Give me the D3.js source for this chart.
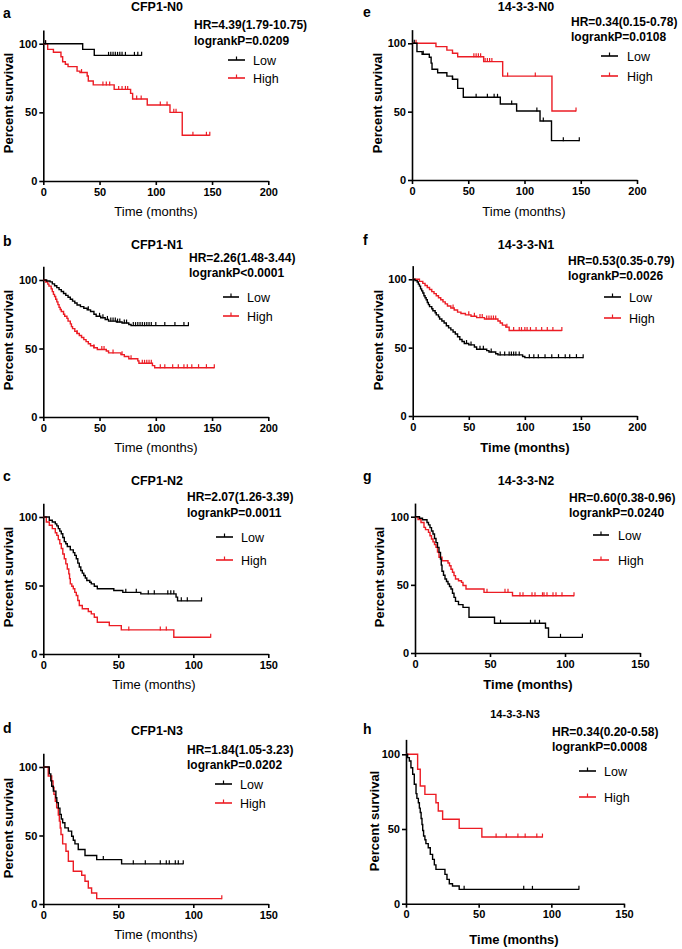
<!DOCTYPE html>
<html>
<head>
<meta charset="utf-8">
<script src="https://cdn.jsdelivr.net/npm/d3@7/dist/d3.min.js"></script>
<style>
  html, body { margin: 0; padding: 0; background: #fff; }
  svg text { font-family: "Liberation Sans", Arial, sans-serif; }
</style>
</head>
<body>
<svg id="chart" width="682" height="949"></svg>
<script>
// ---------------- DATA ----------------
// steps: [time, survival after drop]; censor: censored times; end: last follow-up time
const panelLetters = ["a","b","c","d","e","f","g","h"];
const panelTitles = ["CFP1-N0","CFP1-N1","CFP1-N2","CFP1-N3","14-3-3-N0","14-3-3-N1","14-3-3-N2","14-3-3-N3"];
const hrTexts = ["HR=4.39(1.79-10.75)","HR=2.26(1.48-3.44)","HR=2.07(1.26-3.39)","HR=1.84(1.05-3.23)",
                 "HR=0.34(0.15-0.78)","HR=0.53(0.35-0.79)","HR=0.60(0.38-0.96)","HR=0.34(0.20-0.58)"];
const pTexts = ["logrankP=0.0209","logrankP<0.0001","logrankP=0.0011","logrankP=0.0202",
                "logrankP=0.0108","logrankP=0.0026","logrankP=0.0240","logrankP=0.0008"];
const seriesNames = ["Low","High"];
const yTicks = [0, 50, 100];
const xTicks200 = [0, 50, 100, 150, 200];
const xTicks150 = [0, 50, 100, 150];

// Panel a: CFP1-N0
const aLow = [[35,95.9],[45.3,91.5]];
const aLowCensor = [2,58,60,62,64,66,68,70,73,81,84];
const aLowEnd = 87.4;
const aHigh = [[3.9,95.9],[9,93.8],[15.7,90.5],[17.2,86.9],[19.6,85],[22,83.3],[30,80],[32.6,79],[39,76.5],[40,72.8],[44.4,70],[63,66.7],[77.6,63.8],[79.4,59.7],[92.4,55.3],[112.6,50],[123.5,33.3]];
const aHighCensor = [2,34,53,56,59,67,70,73,75,83,87,104,110,116,118,133,145];
const aHighEnd = 148;

// Panel b: CFP1-N1
const bLow = [[3,99.3],[6,98.6],[8,97.2],[10,95.8],[12,94.4],[14,93],[16,91.6],[18,90.2],[20,88.8],[22,87.4],[24,86],[26,84.6],[28,83.2],[30,81.8],[33,80.6],[36,79.4],[39,78.2],[42,77],[45,75],[47,73.5],[51,72.5],[55,71.2],[58,70],[65,69.3],[70,68.6],[76,67.5],[78,66.7]];
const bLowCensor = [40,50,53,57,60,62,64,66,68,72,74,80,82,84,86,88,90,92,94,96,100,108,117,125];
const bLowEnd = 129;
const bHigh = [[2,98.5],[4,97],[5,95.5],[7,93.5],[8,91.5],[9,89.5],[10,88],[11,86],[12,84],[13,82],[14,80],[15,78.5],[16,77],[18,75],[19,73.5],[21,72],[22,70],[24,68],[25,66],[26,64.5],[28,62.5],[30,61],[32,59.5],[34,58],[36,56.5],[38,55],[40,53.5],[42,52],[45,50.5],[48,49.3],[56,48.2],[58,46.8],[69,45.5],[72,44.2],[76,42.5],[84,41],[85,39.2],[97,37.5],[99,36]];
const bHighCensor = [30,45,52,54,62,70,78,88,90,92,94,96,104,108,115,120,125,128,132,138,145];
const bHighEnd = 152;

// Panel c: CFP1-N2
const cLow = [[4,97.6],[6,96.3],[8,95],[9,93.5],[10,91.5],[11,89.7],[12,87.8],[13,85],[14,82],[15,80.5],[16,78.5],[18,76],[20,74],[21,72],[22,69.5],[23,66.3],[24,63.5],[25,61],[26,59],[27,57.3],[28,55.5],[29,53.7],[31,52.4],[32,51.2],[34,49.4],[36,47.6],[47,46.3],[53,45],[65,43.9],[88.5,41.5],[89.5,38.8]];
const cLowCensor = [55,62,70,74,83,85,87,92,96];
const cLowEnd = 105.5;
const cHigh = [[2,96.3],[4,94],[6,91.5],[8,88.5],[9,86.6],[10,83.5],[11,80.5],[12,77],[13,73],[14,69.5],[15,65.8],[16,62],[17,58.5],[17.5,55],[18,51.2],[19,49.4],[20,47.6],[21,45],[22,42.7],[23,39],[24,35.4],[26,33],[30,31],[32,29.3],[34,26.8],[36,23.2],[44,20.7],[52,17.6],[87,12.2]];
const cHighCensor = [57,78,82];
const cHighEnd = 111.6;

// Panel d: CFP1-N3
const dLow = [[4,95],[5,90],[5.6,86],[6.7,82.4],[8.4,77.6],[9,74],[10,70],[11.1,65.4],[12,62],[12.9,59.3],[14.4,55.6],[16.7,53.2],[18.9,49.5],[20,46.5],[21.1,43.9],[23.3,39.8],[27.8,35.4],[35.6,32.4],[52.2,29.3]];
const dLowCensor = [40,60,68,78,82,84,88,90];
const dLowEnd = 93.3;
const dHigh = [[3.3,93.4],[5.6,89.8],[6.5,85],[7.1,80],[8,75],[8.9,70.2],[10,65],[10.7,60.5],[11.3,55.5],[11.8,50.7],[12.9,43.9],[15.1,38.5],[16.7,31.2],[20,23.9],[25.6,21],[27.8,16.6],[30,11.7],[32.2,8],[35.6,3.9]];
const dHighCensor = [];
const dHighEnd = 119;

// Panel e: 14-3-3-N0
const eLow = [[4.4,93.9],[9,92],[15.4,89.8],[17,85.5],[17.8,81],[22.8,78.5],[31,76],[36,73.7],[40.6,67],[45.6,60.5],[78.5,55.6],[93,50.5],[113.8,43.2],[124,28.8]];
const eLowCensor = [2,10,36,57,67,73,76,88.6,111,116.7,134.5];
const eLowEnd = 148.7;
const eHigh = [[21.3,97.6],[31,95],[36,92.7],[40.6,90.2],[63.7,86.6],[80.6,76],[124.4,50.5]];
const eHighCensor = [3.6,55,57,59,61,65,67,69,71,85,109.6];
const eHighEnd = 145.8;

// Panel f: 14-3-3-N1
const fLow = [[2,99],[4,98],[5,96.5],[6,95],[7,93],[8,91.5],[9,90],[10,88],[11,86.5],[12,85],[13,83],[14,81.5],[15,80],[17,78.5],[18,77],[20,75.5],[21,74],[23,72.5],[24,71],[26,69.5],[28,68],[30,66],[32,64.5],[34,63],[36,61.5],[38,60],[40,58],[42,56],[44,54.5],[46,53],[50,52],[55,50.5],[57,48.8],[66,47.8],[68,46.8],[74,45.5],[76,44.7],[98,43.5],[100,42.7]];
const fLowCensor = [48,52,60,63,70,78,82,86,88,90,92,95,104,108,112,118,124,130,136,140,146];
const fLowEnd = 152;
const fHigh = [[6,98.5],[9,97],[11,95.5],[13,94],[15,92.5],[17,91],[19,89.5],[21,88],[23,86.5],[25,85],[27,83.5],[29,82],[31,80.5],[34,79],[37,77.5],[40,76],[43,75],[47,74],[52,73],[57,72],[64,71],[76,69.5],[78,68],[80,66.5],[83,65],[86,62.5]];
const fHighCensor = [36,50,55,60,62,66,68,70,72,74,84,90,95,97,100,102,105,110,115,120,125];
const fHighEnd = 133;

// Panel g: 14-3-3-N2
const gLow = [[3,98.9],[5,97.8],[8,95.8],[9,94],[10,92],[11,89.5],[12,87.3],[13,84],[14,81],[15,77.5],[16,73.8],[17,69],[17.5,64.5],[18,60],[19,57],[20,54.3],[21,52.5],[22,50.6],[23,48.8],[24,47],[25,43.8],[26,40.8],[27,37.9],[29,35.5],[32,33.5],[36,26.2],[53,21.8],[87,18.3],[89,11.5]];
const gLowCensor = [57,77,80,83,97];
const gLowEnd = 111.6;
const gHigh = [[2,98],[4,95.8],[6,92.2],[7,90.5],[9,88.5],[10,86],[11,83.6],[12,81.5],[13,79.5],[14,77.5],[15,74],[16,70.2],[18,67.7],[22,66],[23,64],[24,61.5],[25,59.2],[26,56.8],[27,54.3],[29,53],[31,51.8],[32,49.5],[34,47],[46,44.5],[65,42]];
const gHighCensor = [48,60,62,70,72,78,80,85,86,88,92,94,98];
const gHighEnd = 106;

// Panel h: 14-3-3-N3
const hLow = [[1.1,97.8],[2.3,95.5],[3.4,91],[4.6,86.6],[5.7,80],[6.9,73.7],[7.5,70.5],[8.5,67.6],[9.2,64],[9.8,61],[10.4,57],[11,53],[11.5,49],[12.1,45.3],[13,42.8],[13.7,40.2],[15.3,37.5],[16.7,33],[18.3,29.7],[19.5,26],[20.6,23],[26.8,19.6],[28.2,16.3],[29.8,13.4],[32,11.8],[36.6,9.6]];
const hLowCensor = [40,81,87];
const hLowEnd = 119;
const hHigh = [[8,90],[9.8,78.8],[13,73.2],[20.6,67.6],[22.2,62],[25.2,56.5],[36.6,50.4],[52.2,44.6]];
const hHighCensor = [62,69,77,82,90];
const hHighEnd = 93.9;

const xMaxes = [200, 200, 150, 150, 200, 200, 150, 150];

// ---------------- LAYOUT ----------------
const lowSeries = [[aLow,aLowCensor,aLowEnd],[bLow,bLowCensor,bLowEnd],[cLow,cLowCensor,cLowEnd],[dLow,dLowCensor,dLowEnd],
                   [eLow,eLowCensor,eLowEnd],[fLow,fLowCensor,fLowEnd],[gLow,gLowCensor,gLowEnd],[hLow,hLowCensor,hLowEnd]];
const highSeries = [[aHigh,aHighCensor,aHighEnd],[bHigh,bHighCensor,bHighEnd],[cHigh,cHighCensor,cHighEnd],[dHigh,dHighCensor,dHighEnd],
                    [eHigh,eHighCensor,eHighEnd],[fHigh,fHighCensor,fHighEnd],[gHigh,gHighCensor,gHighEnd],[hHigh,hHighCensor,hHighEnd]];

const layout = [
  // x0, x1, y0, y100, letter[x,y], title[x,y,size], hr[x,y1,y2], legend[x1,x2,yLow,yHigh,textX], xlab[x,y,bold], ylab[x,y]
  {x0:43.3,x1:268.3,y0:181,y100:43.7, L:[3,18], T:[157,11,12.5], H:[194,29,45], G:[228,245,60,78,253], X:[156,216,false], Y:[8,103]},
  {x0:43.3,x1:268.3,y0:417,y100:280,  L:[3,246], T:[157,249,12.5], H:[189,262,277], G:[223,239,297,316,247], X:[156,452,false], Y:[8,340]},
  {x0:43.3,x1:268.3,y0:654,y100:517,  L:[3,481], T:[157,485,12.5], H:[187,501,517], G:[216,233,537,560,241], X:[154,689,false], Y:[8,577]},
  {x0:43.3,x1:268.3,y0:904,y100:767,  L:[3,733], T:[157,735,12.5], H:[187,754,769], G:[215,232,784,803,240], X:[156,939,false], Y:[8,828]},
  {x0:412,x1:637,y0:180,y100:43.3,    L:[363,17], T:[526,11,12.5], H:[571,26,41], G:[601,618,56,76,627], X:[524,216,false], Y:[377,103]},
  {x0:412.7,x1:637,y0:416,y100:279.3, L:[363,245], T:[526,249,12.5], H:[568,265,280], G:[604,621,297,318,629], X:[525,452,true], Y:[378,340]},
  {x0:415,x1:640,y0:653,y100:516.7,   L:[363,481], T:[526,485,12.5], H:[569,502,517], G:[593,609,535,560,618], X:[528,689,true], Y:[379,577]},
  {x0:406,x1:624,y0:903.7,y100:754.3, L:[363,734], T:[515,718,11], H:[552,736,751], G:[579,596,771,797,604], X:[514,944,true], Y:[374,821]}
];

const RED = "#ec1c24";
const BLACK = "#000";
const svg = d3.select("#chart");

function survAt(steps, t) {
  let s = 100;
  for (const [st, sv] of steps) { if (st <= t) s = sv; }
  return s;
}

layout.forEach((L, i) => {
  const g = svg.append("g");
  const k = (L.y0 - L.y100) / 100;
  const x = d3.scaleLinear().domain([0, xMaxes[i]]).range([L.x0, L.x1]);
  const y = d3.scaleLinear().domain([0, 110]).range([L.y0, L.y0 - 110 * k]);

  // axes
  const yAxis = d3.axisLeft(y).tickValues(yTicks).tickSize(4).tickSizeOuter(0).tickPadding(2);
  const xAxis = d3.axisBottom(x).tickValues(xMaxes[i] === 200 ? xTicks200 : xTicks150).tickSize(4).tickSizeOuter(0).tickPadding(3);
  const ga = g.append("g").attr("transform", `translate(${L.x0},0)`).call(yAxis);
  const gb = g.append("g").attr("transform", `translate(0,${L.y0})`).call(xAxis);
  [ga, gb].forEach(a => {
    a.selectAll("path, line").attr("stroke", "#000").attr("stroke-width", 1.6);
    a.selectAll("text").attr("fill", "#000").style("font-size", "11px").style("font-weight", "bold")
      .style("font-family", '"Liberation Sans", Arial, sans-serif');
  });

  // curves
  const line = d3.line().x(d => x(d[0])).y(d => y(d[1])).curve(d3.curveStepAfter);
  [[highSeries[i], RED], [lowSeries[i], BLACK]].forEach(([ser, col]) => {
    const [steps, censor, end] = ser;
    const pts = [[0, 100], ...steps, [end, steps.length ? steps[steps.length - 1][1] : 100]];
    g.append("path").attr("d", line(pts)).attr("fill", "none").attr("stroke", col).attr("stroke-width", 1.4);
    const cs = [...censor, end];
    g.selectAll(null).data(cs).enter().append("line")
      .attr("x1", d => x(d)).attr("x2", d => x(d))
      .attr("y1", d => y(survAt(steps, d)) + 0.5).attr("y2", d => y(survAt(steps, d)) - 3.5)
      .attr("stroke", col).attr("stroke-width", 1.2);
  });

  // letter
  g.append("text").attr("x", L.L[0]).attr("y", L.L[1]).text(panelLetters[i])
    .style("font-size", "14px").style("font-weight", "bold");
  // title
  g.append("text").attr("x", L.T[0]).attr("y", L.T[1]).attr("text-anchor", "middle").text(panelTitles[i])
    .style("font-size", L.T[2] + "px").style("font-weight", "bold");
  // HR
  g.append("text").attr("x", L.H[0]).attr("y", L.H[1]).text(hrTexts[i]).style("font-size", "12px").style("font-weight", "bold");
  g.append("text").attr("x", L.H[0]).attr("y", L.H[2]).text(pTexts[i]).style("font-size", "12px").style("font-weight", "bold");
  // legend
  [[L.G[2], BLACK, seriesNames[0]], [L.G[3], RED, seriesNames[1]]].forEach(([yy, col, name]) => {
    g.append("line").attr("x1", L.G[0]).attr("x2", L.G[1]).attr("y1", yy).attr("y2", yy).attr("stroke", col).attr("stroke-width", 1.6);
    const mx = (L.G[0] + L.G[1]) / 2;
    g.append("line").attr("x1", mx).attr("x2", mx).attr("y1", yy).attr("y2", yy - 3.5).attr("stroke", col).attr("stroke-width", 1.2);
    g.append("text").attr("x", L.G[4]).attr("y", yy + 4.5).text(name).style("font-size", "12.5px");
  });
  // x label
  g.append("text").attr("x", L.X[0]).attr("y", L.X[1]).attr("text-anchor", "middle").text("Time (months)")
    .style("font-size", "13px").style("font-weight", L.X[2] ? "bold" : "normal");
  // y label
  g.append("text").attr("transform", `translate(${L.Y[0] + 4.5},${L.Y[1]}) rotate(-90)`).attr("text-anchor", "middle")
    .text("Percent survival").style("font-size", "13px").style("font-weight", "bold");
});
</script>
</body>
</html>
